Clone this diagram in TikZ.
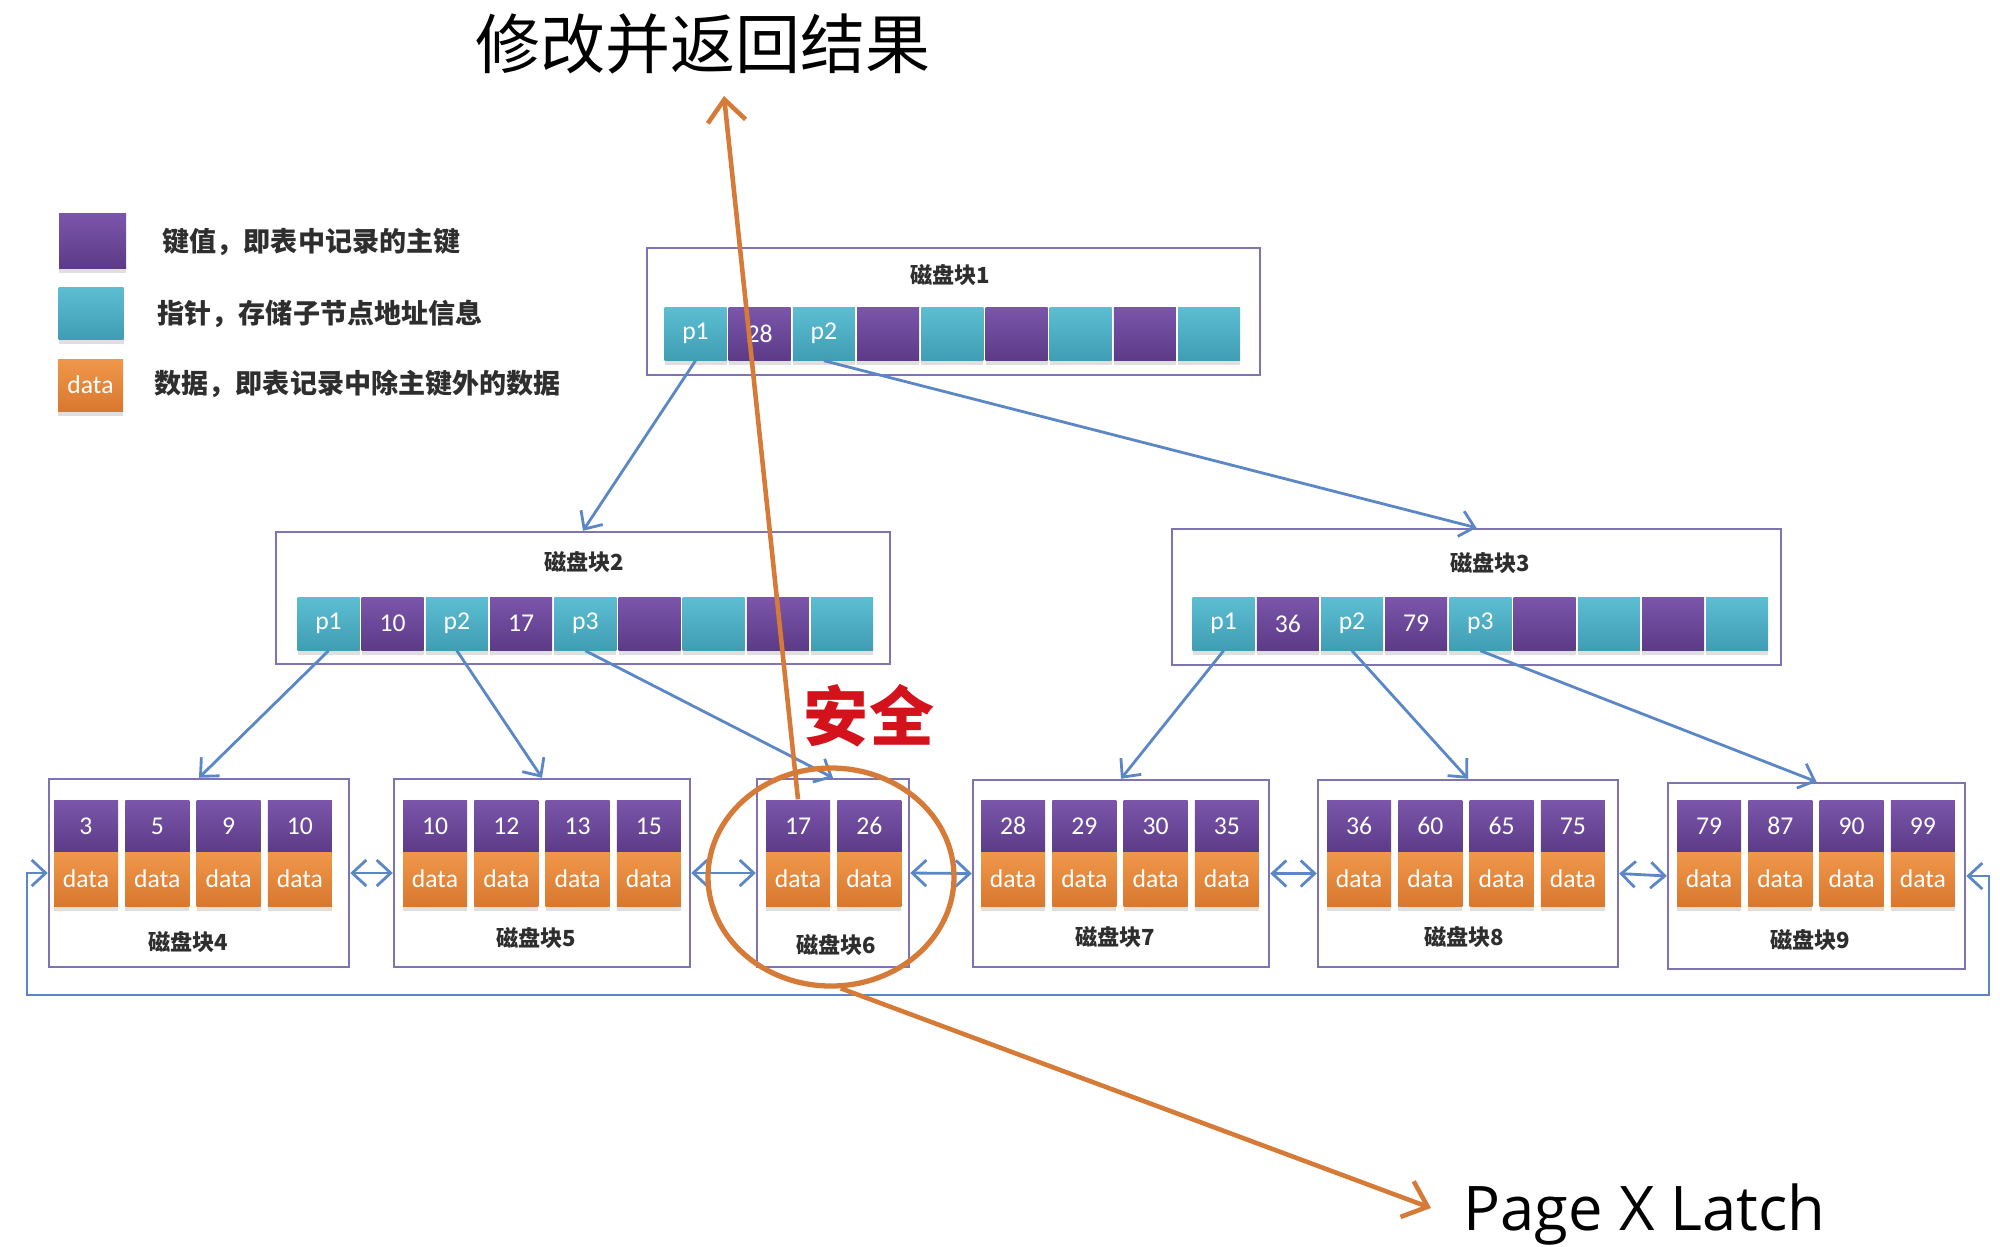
\documentclass[tikz,border=0pt]{standalone}
\usepackage{fontspec}
\setmainfont{Carlito}
\newfontfamily\cjk{Noto Sans CJK SC}
\newfontfamily\latchfont{Open Sans}
\usepackage{tikz}
\usetikzlibrary{arrows.meta, shapes.geometric, shadows}
\definecolor{keyTop}{HTML}{7B55AA}
\definecolor{keyBot}{HTML}{5C3B88}
\definecolor{ptrTop}{HTML}{5DBED2}
\definecolor{ptrBot}{HTML}{3F9DB4}
\definecolor{dataTop}{HTML}{F0974A}
\definecolor{dataBot}{HTML}{D8782E}
\definecolor{boxLine}{HTML}{8073B4}
\definecolor{linkBlue}{HTML}{5B87C6}
\definecolor{hotOrange}{HTML}{D67B37}
\definecolor{safeRed}{HTML}{D4121C}
\definecolor{inkDark}{HTML}{2E2E2E}
\tikzset{
  cell/.style={minimum width=0.62cm, minimum height=0.53cm, inner sep=0pt, text=white,
               font=\fontsize{7.3pt}{8pt}\selectfont},
  keycell/.style={cell, top color=keyTop, bottom color=keyBot,
                  drop shadow={shadow xshift=0cm, shadow yshift=-0.05cm, opacity=0.25}},
  ptrcell/.style={cell, top color=ptrTop, bottom color=ptrBot,
                  drop shadow={shadow xshift=0cm, shadow yshift=-0.05cm, opacity=0.25}},
  leafkey/.style={cell, minimum width=0.64cm, minimum height=0.52cm, top color=keyTop, bottom color=keyBot},
  datacell/.style={cell, minimum width=0.64cm, minimum height=0.54cm, top color=dataTop, bottom color=dataBot,
                   drop shadow={shadow xshift=0cm, shadow yshift=-0.05cm, opacity=0.25}},
  block/.style={draw=boxLine, line width=0.7pt, inner sep=0pt, fill=white},
  blocktitle/.style={font=\cjk\bfseries\fontsize{6.3pt}{7pt}\selectfont, text=inkDark},
  legendtext/.style={anchor=west, inner sep=0pt, font=\cjk\bfseries\fontsize{7.7pt}{9pt}\selectfont, text=inkDark},
  link/.style={draw=linkBlue, line width=0.8pt, -{Straight Barb[length=0.14cm, width=0.26cm]}},
  twoway/.style={draw=linkBlue, line width=0.8pt,
                 {Straight Barb[length=0.14cm, width=0.26cm]}-{Straight Barb[length=0.14cm, width=0.26cm]}},
  ring/.style={ellipse, draw=hotOrange, line width=1.5pt, inner sep=0pt},
  hotarrow/.style={draw=hotOrange, line width=1.3pt, -{Straight Barb[length=0.22cm, width=0.38cm]}},
}

\begin{document}
\begin{tikzpicture}
\useasboundingbox (0,0) rectangle (20,-12.46);

% legend
\node[keycell, minimum width=0.67cm, minimum height=0.55cm] (lgKey) at (0.925,-2.405) {};
\node[ptrcell, minimum width=0.65cm, minimum height=0.52cm] (lgPtr) at (0.91,-3.13) {};
\node[datacell, minimum width=0.65cm, minimum height=0.52cm] (lgData) at (0.905,-3.85) {data};
\node[legendtext] (lgKeyT) at (1.62,-2.42) {键值，即表中记录的主键};
\node[legendtext] (lgPtrT) at (1.57,-3.14) {指针，存储子节点地址信息};
\node[legendtext] (lgDataT) at (1.54,-3.84) {数据，即表记录中除主键外的数据};

% root block
\node[block, minimum width=6.13cm, minimum height=1.27cm] (b1) at (9.535,-3.115) {};
\node[blocktitle] (t1) at (9.50,-2.75) {磁盘块1};
\node[ptrcell] (c1-1) at (6.955,-3.335) {p1};
\node[keycell] (c1-2) at (7.597,-3.335) {28};
\node[ptrcell] (c1-3) at (8.239,-3.335) {p2};
\node[keycell] (c1-4) at (8.881,-3.335) {};
\node[ptrcell] (c1-5) at (9.523,-3.335) {};
\node[keycell] (c1-6) at (10.165,-3.335) {};
\node[ptrcell] (c1-7) at (10.807,-3.335) {};
\node[keycell] (c1-8) at (11.449,-3.335) {};
\node[ptrcell] (c1-9) at (12.091,-3.335) {};

% second level
\node[block, minimum width=6.14cm, minimum height=1.32cm] (b2) at (5.83,-5.98) {};
\node[blocktitle] (t2) at (5.84,-5.62) {磁盘块2};
\node[ptrcell] (c2-1) at (3.285,-6.235) {p1};
\node[keycell] (c2-2) at (3.927,-6.235) {10};
\node[ptrcell] (c2-3) at (4.569,-6.235) {p2};
\node[keycell] (c2-4) at (5.211,-6.235) {17};
\node[ptrcell] (c2-5) at (5.853,-6.235) {p3};
\node[keycell] (c2-6) at (6.495,-6.235) {};
\node[ptrcell] (c2-7) at (7.137,-6.235) {};
\node[keycell] (c2-8) at (7.779,-6.235) {};
\node[ptrcell] (c2-9) at (8.421,-6.235) {};

\node[block, minimum width=6.09cm, minimum height=1.36cm] (b3) at (14.765,-5.97) {};
\node[blocktitle] (t3) at (14.905,-5.63) {磁盘块3};
\node[ptrcell] (c3-1) at (12.236,-6.235) {p1};
\node[keycell] (c3-2) at (12.878,-6.235) {36};
\node[ptrcell] (c3-3) at (13.520,-6.235) {p2};
\node[keycell] (c3-4) at (14.162,-6.235) {79};
\node[ptrcell] (c3-5) at (14.804,-6.235) {p3};
\node[keycell] (c3-6) at (15.446,-6.235) {};
\node[ptrcell] (c3-7) at (16.088,-6.235) {};
\node[keycell] (c3-8) at (16.730,-6.235) {};
\node[ptrcell] (c3-9) at (17.372,-6.235) {};

% leaves
\node[block, minimum width=3.00cm, minimum height=1.88cm] (b4) at (1.99,-8.73) {};
\node[blocktitle] (t4) at (1.88,-9.42) {磁盘块4};
\node[leafkey] (k4-1) at (0.86,-8.26) {3};   \node[datacell] (d4-1) at (0.86,-8.79) {data};
\node[leafkey] (k4-2) at (1.573,-8.26) {5};  \node[datacell] (d4-2) at (1.573,-8.79) {data};
\node[leafkey] (k4-3) at (2.286,-8.26) {9};  \node[datacell] (d4-3) at (2.286,-8.79) {data};
\node[leafkey] (k4-4) at (2.999,-8.26) {10}; \node[datacell] (d4-4) at (2.999,-8.79) {data};

\node[block, minimum width=2.96cm, minimum height=1.88cm] (b5) at (5.42,-8.73) {};
\node[blocktitle] (t5) at (5.36,-9.38) {磁盘块5};
\node[leafkey] (k5-1) at (4.35,-8.26) {10};  \node[datacell] (d5-1) at (4.35,-8.79) {data};
\node[leafkey] (k5-2) at (5.063,-8.26) {12}; \node[datacell] (d5-2) at (5.063,-8.79) {data};
\node[leafkey] (k5-3) at (5.776,-8.26) {13}; \node[datacell] (d5-3) at (5.776,-8.79) {data};
\node[leafkey] (k5-4) at (6.489,-8.26) {15}; \node[datacell] (d5-4) at (6.489,-8.79) {data};

\node[block, minimum width=1.52cm, minimum height=1.88cm] (b6) at (8.33,-8.73) {};
\node[blocktitle] (t6) at (8.36,-9.45) {磁盘块6};
\node[leafkey] (k6-1) at (7.98,-8.26) {17};  \node[datacell] (d6-1) at (7.98,-8.79) {data};
\node[leafkey] (k6-2) at (8.693,-8.26) {26}; \node[datacell] (d6-2) at (8.693,-8.79) {data};

\node[block, minimum width=2.96cm, minimum height=1.87cm] (b7) at (11.21,-8.735) {};
\node[blocktitle] (t7) at (11.15,-9.37) {磁盘块7};
\node[leafkey] (k7-1) at (10.13,-8.26) {28};  \node[datacell] (d7-1) at (10.13,-8.79) {data};
\node[leafkey] (k7-2) at (10.843,-8.26) {29}; \node[datacell] (d7-2) at (10.843,-8.79) {data};
\node[leafkey] (k7-3) at (11.556,-8.26) {30}; \node[datacell] (d7-3) at (11.556,-8.79) {data};
\node[leafkey] (k7-4) at (12.269,-8.26) {35}; \node[datacell] (d7-4) at (12.269,-8.79) {data};

\node[block, minimum width=3.00cm, minimum height=1.87cm] (b8) at (14.68,-8.735) {};
\node[blocktitle] (t8) at (14.64,-9.37) {磁盘块8};
\node[leafkey] (k8-1) at (13.59,-8.26) {36};  \node[datacell] (d8-1) at (13.59,-8.79) {data};
\node[leafkey] (k8-2) at (14.303,-8.26) {60}; \node[datacell] (d8-2) at (14.303,-8.79) {data};
\node[leafkey] (k8-3) at (15.016,-8.26) {65}; \node[datacell] (d8-3) at (15.016,-8.79) {data};
\node[leafkey] (k8-4) at (15.729,-8.26) {75}; \node[datacell] (d8-4) at (15.729,-8.79) {data};

\node[block, minimum width=2.97cm, minimum height=1.86cm] (b9) at (18.165,-8.76) {};
\node[blocktitle] (t9) at (18.10,-9.40) {磁盘块9};
\node[leafkey] (k9-1) at (17.09,-8.26) {79};  \node[datacell] (d9-1) at (17.09,-8.79) {data};
\node[leafkey] (k9-2) at (17.803,-8.26) {87}; \node[datacell] (d9-2) at (17.803,-8.79) {data};
\node[leafkey] (k9-3) at (18.516,-8.26) {90}; \node[datacell] (d9-3) at (18.516,-8.79) {data};
\node[leafkey] (k9-4) at (19.229,-8.26) {99}; \node[datacell] (d9-4) at (19.229,-8.79) {data};

% tree pointers
\draw[link] (c1-1.south) -- (b2.north);
\draw[link] (c1-3.south) -- (b3.north);
\draw[link] (c2-1.south) -- (b4.north);
\draw[link] (c2-3.south) -- (b5.north);
\draw[link] (c2-5.south) -- (b6.north);
\draw[link] (c3-1.south) -- (b7.north);
\draw[link] (c3-3.south) -- (b8.north);
\draw[link] (c3-5.south) -- (b9.north);

% leaf chain
\draw[twoway] (b4.east) -- (b5.west);
\draw[twoway] (b5.east) -- (b6.west);
\draw[twoway] (b6.east) -- (b7.west);
\draw[twoway] (b7.east) -- (b8.west);
\draw[twoway] (b8.east) -- (b9.west);
\coordinate (loopR) at (19.89,-9.95);
\coordinate (loopL) at (0.27,-9.95);
\draw[twoway] (b9.east) -| (loopR) -- (loopL) |- (b4.west);

% latch overlay
\node[font=\cjk\fontsize{18.5pt}{20pt}\selectfont, text=black] (title) at (7.03,-0.44) {修改并返回结果};
\node[font=\cjk\bfseries\fontsize{18.5pt}{20pt}\selectfont, text=safeRed] (safe) at (8.69,-7.16) {安全};
\node[font=\latchfont\fontsize{17.5pt}{20pt}\selectfont, anchor=base west, inner sep=0pt] (latch) at (14.63,-12.30) {Page X Latch};
\node[ring, minimum width=2.46cm, minimum height=2.18cm] (circ) at (8.31,-8.77) {};
\coordinate (up) at (7.24,-0.96);
\coordinate (down) at (14.31,-12.08);
\draw[hotarrow] (k6-1.north) -- (up);
\draw[hotarrow] (circ.-85) -- (down);
\end{tikzpicture}
\end{document}
